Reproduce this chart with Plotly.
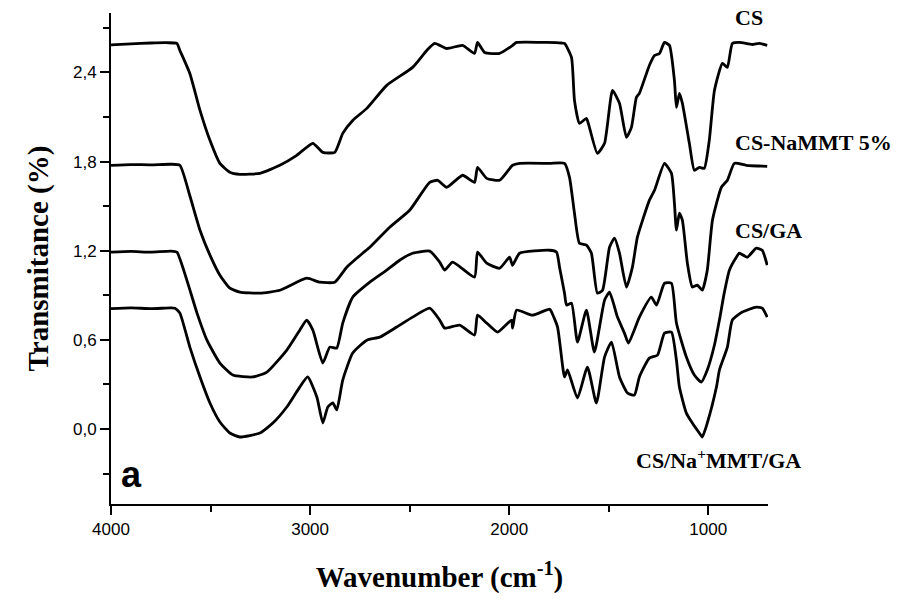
import plotly.graph_objects as go

# ---- data (wavenumber cm-1, transmittance) ----
cs_wn = [4000, 3900, 3800, 3720, 3669, 3654, 3604, 3553, 3503, 3453, 3403, 3353, 3252, 3152, 3067,
         2986, 2936, 2876, 2836, 2786, 2715, 2615, 2485, 2414, 2374, 2314, 2234, 2174, 2159, 2123,
         2048, 1983, 1963, 1812, 1737, 1722, 1687, 1672, 1647, 1612, 1597, 1557, 1521, 1481, 1446,
         1411, 1386, 1361, 1346, 1296, 1270, 1245, 1220, 1195, 1170, 1160, 1145, 1130, 1095, 1070,
         1045, 1020, 995, 969, 929, 904, 879, 844, 779, 744, 704]
cs_t = [2.585, 2.592, 2.598, 2.600, 2.595, 2.548, 2.393, 2.145, 1.943, 1.788, 1.728, 1.714, 1.721, 1.775, 1.842,
        1.923, 1.862, 1.862, 1.990, 2.077, 2.158, 2.313, 2.434, 2.548, 2.595, 2.561, 2.582, 2.528, 2.602, 2.534,
        2.528, 2.582, 2.602, 2.602, 2.598, 2.595, 2.501, 2.212, 2.057, 2.091, 2.030, 1.855, 1.923, 2.279, 2.192,
        1.963, 2.030, 2.232, 2.259, 2.447, 2.514, 2.528, 2.602, 2.582, 2.346, 2.165, 2.259, 2.192, 1.923, 1.741,
        1.761, 1.755, 1.943, 2.279, 2.461, 2.434, 2.595, 2.602, 2.588, 2.595, 2.582]

nammt_wn = [4000, 3900, 3800, 3700, 3654, 3604, 3553, 3503, 3453, 3403, 3353, 3252, 3152, 3017, 2951,
            2876, 2816, 2736, 2700, 2600, 2500, 2399, 2359, 2314, 2234, 2174, 2159, 2113, 2048, 1983,
            1948, 1797, 1722, 1697, 1672, 1647, 1612, 1587, 1557, 1531, 1496, 1471, 1446, 1411, 1381,
            1356, 1296, 1270, 1220, 1185, 1170, 1160, 1145, 1130, 1105, 1080, 1055, 1030, 1005, 979,
            934, 904, 869, 809, 704]
nammt_t = [1.775, 1.780, 1.778, 1.782, 1.775, 1.570, 1.338, 1.170, 1.035, 0.948, 0.921, 0.914, 0.934, 1.015, 0.988,
           0.988, 1.089, 1.183, 1.223, 1.358, 1.472, 1.660, 1.674, 1.627, 1.708, 1.660, 1.761, 1.687, 1.674, 1.775,
           1.788, 1.788, 1.788, 1.694, 1.452, 1.250, 1.237, 1.183, 0.914, 0.934, 1.223, 1.284, 1.183, 0.955, 1.089,
           1.291, 1.539, 1.607, 1.788, 1.721, 1.519, 1.338, 1.452, 1.405, 1.116, 0.955, 0.968, 0.934, 1.069, 1.405,
           1.627, 1.674, 1.788, 1.775, 1.768]

ga_wn = [4000, 3900, 3800, 3700, 3669, 3619, 3568, 3518, 3453, 3388, 3288, 3217, 3117, 3052, 3017,
         2986, 2936, 2901, 2866, 2836, 2786, 2700, 2615, 2550, 2485, 2399, 2349, 2324, 2284, 2174,
         2159, 2113, 2048, 1998, 1983, 1948, 1797, 1762, 1747, 1722, 1712, 1687, 1657, 1612, 1572,
         1521, 1496, 1456, 1421, 1401, 1346, 1286, 1260, 1220, 1185, 1160, 1110, 1070, 1035, 1005,
         969, 944, 919, 894, 859, 844, 804, 759, 729, 704]
ga_t = [1.190, 1.195, 1.190, 1.197, 1.190, 1.002, 0.780, 0.598, 0.444, 0.363, 0.350, 0.383, 0.531, 0.665, 0.733,
        0.665, 0.444, 0.551, 0.545, 0.713, 0.887, 0.988, 1.069, 1.136, 1.183, 1.197, 1.123, 1.069, 1.123, 1.022,
        1.190, 1.116, 1.082, 1.156, 1.102, 1.183, 1.203, 1.190, 1.089, 0.914, 0.834, 0.847, 0.585, 0.800, 0.518,
        0.867, 0.921, 0.753, 0.645, 0.578, 0.753, 0.887, 0.834, 0.981, 0.981, 0.713, 0.484, 0.363, 0.316, 0.397,
        0.565, 0.733, 0.921, 1.069, 1.156, 1.183, 1.156, 1.217, 1.203, 1.102]

mmtga_wn = [4000, 3900, 3800, 3700, 3679, 3654, 3604, 3553, 3503, 3453, 3403, 3353, 3252, 3187, 3117,
            3052, 3012, 2966, 2936, 2911, 2886, 2866, 2836, 2786, 2715, 2650, 2565, 2485, 2399, 2349,
            2324, 2249, 2174, 2159, 2113, 2058, 1988, 1983, 1963, 1883, 1797, 1787, 1757, 1722, 1707,
            1657, 1607, 1562, 1521, 1486, 1446, 1406, 1371, 1346, 1296, 1255, 1220, 1185, 1160, 1145,
            1110, 1080, 1045, 1030, 1005, 959, 944, 904, 879, 829, 759, 729, 704]
mmtga_t = [0.810, 0.815, 0.810, 0.815, 0.813, 0.780, 0.551, 0.350, 0.175, 0.047, -0.027, -0.054, -0.027, 0.040, 0.148,
           0.282, 0.350, 0.215, 0.040, 0.148, 0.175, 0.128, 0.329, 0.511, 0.598, 0.618, 0.686, 0.753, 0.813, 0.733,
           0.679, 0.699, 0.632, 0.766, 0.713, 0.652, 0.733, 0.679, 0.800, 0.766, 0.807, 0.787, 0.686, 0.350, 0.397,
           0.208, 0.417, 0.175, 0.484, 0.585, 0.350, 0.242, 0.228, 0.350, 0.477, 0.497, 0.645, 0.652, 0.464, 0.282,
           0.107, 0.040, -0.027, -0.054, 0.040, 0.282, 0.397, 0.551, 0.733, 0.787, 0.820, 0.813, 0.753]

y_tickvals = [0.0, 0.6, 1.2, 1.8, 2.4]
y_ticktext = ["0,0", "0,6", "1,2", "1,8", "2,4"]
x_tickvals = [4000, 3000, 2000, 1000]
x_ticktext = ["4000", "3000", "2000", "1000"]

series = [(cs_wn, cs_t, "CS"), (nammt_wn, nammt_t, "CS-NaMMT 5%"),
          (ga_wn, ga_t, "CS/GA"), (mmtga_wn, mmtga_t, "CS/Na<sup>+</sup>MMT/GA")]

fig = go.Figure()
for wn, t, name in series:
    fig.add_trace(go.Scatter(x=wn, y=t, mode="lines", name=name,
                             line=dict(color="black", width=2.8, shape="spline", smoothing=0.5)))

label_font = dict(family="Liberation Serif, Times New Roman, serif", size=22, color="black")
# (text, paper x, paper y, anchor)
labels = [("<b>CS</b>", 0.946, 0.990, "left"), ("<b>CS-NaMMT 5%</b>", 0.946, 0.737, "left"),
          ("<b>CS/GA</b>", 0.946, 0.558, "left"), ("<b>CS/Na<sup>+</sup>MMT/GA</b>", 0.924, 0.092, "center")]
for txt, xv, yv, anc in labels:
    fig.add_annotation(x=xv, y=yv, xref="paper", yref="paper", text=txt, showarrow=False,
                       font=label_font, xanchor=anc, yanchor="middle")

fig.add_annotation(x=0.012, y=0.06, xref="paper", yref="paper", text="<b>a</b>", showarrow=False,
                   xanchor="left", yanchor="middle",
                   font=dict(family="Liberation Sans, Arial, sans-serif", size=36, color="black"))

tick_font = dict(family="Liberation Sans, Arial, sans-serif", size=17, color="black")
title_font = dict(family="Liberation Serif, Times New Roman, serif", size=29, color="black")

fig.update_layout(
    width=904, height=599,
    margin=dict(l=111, r=136, t=13, b=95),
    plot_bgcolor="white", paper_bgcolor="white",
    showlegend=False,
    xaxis=dict(range=[4000, 700], tickvals=x_tickvals, ticktext=x_ticktext,
               showgrid=False, zeroline=False, showline=True, linecolor="black", linewidth=2,
               ticks="outside", ticklen=9, tickwidth=2, tickcolor="black", tickfont=tick_font,
               minor=dict(dtick=500, tick0=0, ticks="outside", ticklen=6, tickwidth=2, tickcolor="black"),
               title=dict(text="<b>Wavenumber (cm<sup>-1</sup>)</b>", font=title_font, standoff=28)),
    yaxis=dict(range=[-0.505, 2.80], tickvals=y_tickvals, ticktext=y_ticktext,
               showgrid=False, zeroline=False, showline=True, linecolor="black", linewidth=2,
               ticks="outside", ticklen=9, tickwidth=2, tickcolor="black", tickfont=tick_font,
               minor=dict(dtick=0.3, tick0=0, ticks="outside", ticklen=6, tickwidth=2, tickcolor="black"),
               title=dict(text="<b>Transmitance (%)</b>", font=title_font, standoff=16)),
)

fig.write_html("out.html")
